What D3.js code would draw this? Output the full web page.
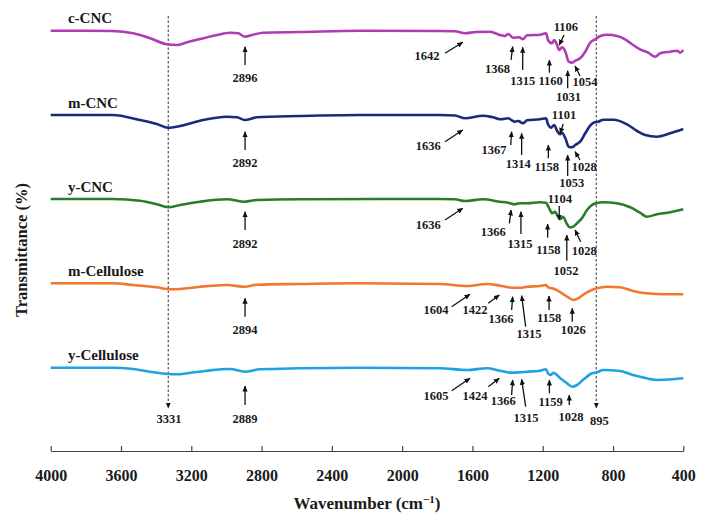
<!DOCTYPE html>
<html>
<head>
<meta charset="utf-8">
<script src="https://cdnjs.cloudflare.com/ajax/libs/d3/7.8.5/d3.min.js"></script>
<style>
    body { margin: 0; background: #fff; }
    text { font-family: "Liberation Serif", "Times New Roman", serif; font-weight: bold; fill: #1a1a1a; }
</style>
</head>
<body>
<div id="ftir_chart"></div>
<script>
// tick labels of the wavenumber axis
var wavenumberTicks = [4000, 3600, 3200, 2800, 2400, 2000, 1600, 1200, 800, 400];

// spectra: [wavenumber, transmittance (offset, arbitrary units)]
var cCNC = [[4000,420.3],[3800,420.3],[3650,420],[3530,417.7],[3434,412.7],[3339,406.7],[3282,406],[3225,408.7],
    [3150,412],[3053,416],[2980,418.3],[2933,417.7],[2895,414.3],[2848,416.3],[2791,418.3],[2582,419],[2241,420.3],
    [1785,420],[1700,419.8],[1642,417.7],[1580,419],[1500,419.3],[1443,416],[1415,415],[1397,417],[1368,413.3],
    [1334,413.7],[1313,411.7],[1289,415.7],[1215,416.3],[1181,417.7],[1170,411],[1147,407.7],[1135,411],[1118,406],
    [1107,401],[1090,403.7],[1071,399.3],[1052,389.3],[1033,388.3],[1015,390.3],[987,392.7],[958,399.3],[930,408.3],
    [901,411.7],[872,415],[834,416.3],[777,415],[731,411.7],[686,406],[646,401.7],[600,398.3],[560,394.3],[532,397.7],
    [475,399.3],[435,400.3],[418,398.3],[400,401]];

var mCNC = [[4000,336],[3800,336],[3650,336],[3491,331],[3396,327],[3331,323.3],[3264,325],[3150,330.3],[2997,334.3],
    [2940,333.7],[2895,331],[2827,333.7],[2582,335],[2241,336],[1785,336],[1700,335.5],[1642,332.7],[1540,335.3],
    [1483,333.7],[1437,331.7],[1397,332.7],[1360,329.3],[1339,330],[1313,327.7],[1289,330.7],[1215,331.7],[1181,332.7],
    [1170,326.7],[1152,323.3],[1135,326],[1118,320],[1101,316.7],[1090,318.3],[1071,312.7],[1052,304.3],[1033,303.7],
    [1015,306],[987,309.3],[958,317.7],[930,325.3],[905,328.7],[884,329.3],[855,331.3],[798,331.3],[720,326.7],
    [663,320],[617,316],[550,314.3],[475,317.7],[400,322]];

var yCNC = [[4000,252],[3650,252],[3491,250.3],[3396,246.7],[3331,243.7],[3264,246],[3150,249.3],[2997,251.7],
    [2895,249.3],[2827,251],[2582,251.7],[1785,252],[1700,251.7],[1642,250],[1540,251.7],[1443,249.3],[1397,248.3],
    [1360,246.7],[1330,247.7],[1289,247.7],[1215,248.7],[1181,248.3],[1165,243.3],[1145,237.7],[1130,239.3],
    [1113,234.3],[1100,232],[1085,234.3],[1062,227],[1047,223.7],[1028,224.3],[1005,227.7],[977,232.7],[948,241],
    [920,246],[896,247.7],[855,248.7],[777,247.7],[702,243.7],[646,238.3],[608,234.3],[550,236.7],[475,238.7],
    [400,241.7]];

var mCellulose = [[4000,167.7],[3650,167.7],[3530,166],[3396,163.7],[3321,161.7],[3264,162],[3150,164.3],[2997,166],
    [2895,164.3],[2827,166.3],[2582,167],[2241,167.7],[1785,167],[1630,165],[1517,167],[1443,165.3],[1376,163.3],
    [1330,163.3],[1289,164.3],[1215,165],[1181,166],[1170,163.7],[1147,162.7],[1130,161.7],[1090,157.7],[1052,153.3],
    [1025,151],[997,152.7],[958,157.7],[920,161],[892,162.7],[834,164.3],[760,163.7],[686,160],[610,157.7],
    [497,156.7],[400,156.7]];

var yCellulose = [[4000,83.3],[3650,83.3],[3530,82],[3415,78.7],[3331,77],[3282,76.7],[3225,77.7],[3110,80.3],
    [2980,82],[2895,79.3],[2810,81.7],[2582,82.7],[2241,83.3],[1785,82.7],[1630,81],[1517,82.7],[1443,80.3],
    [1376,78.3],[1330,78.7],[1289,79.3],[1215,80.3],[1181,81.7],[1170,77.7],[1155,76],[1140,78.3],[1100,72.7],
    [1062,67.7],[1033,64.3],[1005,66],[967,71.7],[920,77.7],[892,78.7],[855,81],[760,80],[686,76],[646,74.3],
    [550,71],[460,71.7],[400,72.7]];

var seriesNames = ["c-CNC", "m-CNC", "y-CNC", "m-Cellulose", "y-Cellulose"];
var seriesData = [cCNC, mCNC, yCNC, mCellulose, yCellulose];

// band annotations: [text, label wn, label T, tail wn, tail T, tip wn, tip T] (tail null = no arrow)
var bandLabels = [
    ["2896", 2894, 373.3, 2894, 386, 2894, 404.3],
    ["1642", 1858, 395, 1756, 397.7, 1655, 408.7],
    ["1368", 1458, 382, 1380, 391, 1371, 404.3],
    ["1315", 1314, 370.3, 1314, 381, 1314, 403.7],
    ["1160", 1155, 370.3, 1162, 378.3, 1162, 391],
    ["1106", 1068, 424.3, 1079, 416, 1106, 406],
    ["1031", 1054, 354.3, 1058, 362.7, 1058, 380.3],
    ["1054", 959, 369.3, 988, 375, 1016, 385],

    ["2892", 2894, 288.3, 2894, 301, 2894, 319.3],
    ["1636", 1851, 305.3, 1756, 309.3, 1655, 321],
    ["1367", 1477, 301, 1382, 306, 1377, 319.3],
    ["1314", 1339, 287, 1320, 296, 1320, 317.7],
    ["1158", 1177, 284.3, 1168, 292.7, 1168, 306],
    ["1101", 1079, 336.7, 1083, 327, 1102, 317.7],
    ["1053", 1035, 268.7, 1058, 275, 1058, 296],
    ["1028", 963, 284.3, 988, 291, 1016, 299.3],

    ["2892", 2894, 207.7, 2894, 221, 2894, 239.3],
    ["1636", 1851, 226, 1756, 231, 1655, 242.7],
    ["1366", 1481, 219.3, 1390, 227.7, 1380, 241],
    ["1315", 1329, 207, 1324, 217, 1324, 239.3],
    ["1158", 1168, 201, 1172, 213.3, 1172, 227],
    ["1104", 1102, 252.7, 1106, 245, 1106, 231],
    ["1052", 1068, 180, 1063, 190.3, 1063, 216],
    ["1028", 963, 200.3, 984, 209.3, 1016, 221],

    ["2894", 2894, 121.7, 2894, 134.3, 2894, 152.7],
    ["1604", 1807, 141, 1718, 144.3, 1614, 156.7],
    ["1422", 1585, 141.7, 1510, 147.7, 1447, 156],
    ["1366", 1437, 132.7, 1377, 141, 1371, 154.3],
    ["1315", 1278, 117.7, 1297, 124.3, 1320, 155.3],
    ["1158", 1164, 133.7, 1164, 141, 1164, 155],
    ["1026", 1026, 121.7, 1032, 129.3, 1032, 142.7],

    ["2889", 2894, 32.3, 2894, 46, 2894, 65],
    ["1605", 1807, 55, 1718, 60.3, 1614, 72.7],
    ["1424", 1585, 55, 1510, 64.3, 1447, 72.7],
    ["1366", 1424, 50, 1377, 56, 1371, 71],
    ["1315", 1295, 33.7, 1297, 44.3, 1320, 71.7],
    ["1159", 1155, 49.3, 1162, 57.7, 1162, 71],
    ["1028", 1039, 34.3, 1049, 46, 1049, 56],
    ["3331", 3327, 32.3, null, null, null, null],
    ["895", 878, 30.3, null, null, null, null]
];

// dashed reference lines: [wavenumber, top T, bottom T]
var refLines = [[3331, 435, 43], [895, 435, 43]];

// styles
var seriesColors = ["#b13bb3", "#1b2a7a", "#2a7c2b", "#f2772f", "#1fa2e2"];

var width = 708, height = 524;

var svg = d3.select("#ftir_chart")
    .append("svg")
    .attr("width", width)
    .attr("height", height);

var x = d3.scaleLinear().domain([4000, 400]).range([50.7, 683.3]);
var y = d3.scaleLinear().domain([0, 445]).range([451, 6]);

// arrow head
svg.append("defs").append("marker")
    .attr("id", "arrowHead")
    .attr("viewBox", "0 0 6 6")
    .attr("refX", 5.5)
    .attr("refY", 3)
    .attr("markerUnits", "userSpaceOnUse")
    .attr("markerWidth", 6)
    .attr("markerHeight", 6)
    .attr("orient", "auto")
    .append("path")
    .attr("d", "M0,0.4 L6,3 L0,5.6 Z")
    .style("fill", "#111");

// x axis
var xAxis = d3.axisBottom(x)
    .tickValues(wavenumberTicks)
    .tickFormat(d3.format("d"))
    .tickSizeInner(-5)
    .tickSizeOuter(0)
    .tickPadding(19);

var gx = svg.append("g")
    .attr("transform", "translate(0," + y(0) + ")")
    .call(xAxis);
gx.select(".domain").style("stroke", "#444").style("stroke-width", 1.2);
gx.selectAll(".tick line").style("stroke", "#444").style("stroke-width", 1.2);
gx.selectAll(".tick text")
    .style("font-family", "'Liberation Serif', serif")
    .style("font-weight", "bold")
    .style("font-size", "16px")
    .style("fill", "#1a1a1a");

// axis titles
var xt = svg.append("text")
    .attr("x", (x.range()[0] + x.range()[1]) / 2)
    .attr("y", 509)
    .attr("text-anchor", "middle")
    .style("font-size", "17px");
xt.append("tspan").text("Wavenumber (cm");
xt.append("tspan").attr("dy", -6).style("font-size", "11px").text("\u22121");
xt.append("tspan").attr("dy", 6).text(")");

svg.append("text")
    .attr("transform", "translate(26.5,250) rotate(-90)")
    .attr("text-anchor", "middle")
    .style("font-size", "16.5px")
    .text("Transmittance (%)");

// dashed reference lines
svg.selectAll(".refLine")
    .data(refLines)
    .enter().append("line")
    .attr("class", "refLine")
    .attr("x1", function(d) { return x(d[0]); })
    .attr("x2", function(d) { return x(d[0]); })
    .attr("y1", function(d) { return y(d[1]); })
    .attr("y2", function(d) { return y(d[2]); })
    .attr("marker-end", "url(#arrowHead)")
    .style("stroke", "#555")
    .style("stroke-width", 1.2)
    .style("stroke-dasharray", "2.5,2");

// spectra
var line = d3.line()
    .curve(d3.curveMonotoneX)
    .x(function(d) { return x(d[0]); })
    .y(function(d) { return y(d[1]); });

svg.selectAll(".spectrum")
    .data(seriesData)
    .enter().append("path")
    .attr("class", "spectrum")
    .attr("d", line)
    .style("fill", "none")
    .style("stroke", function(d, i) { return seriesColors[i]; })
    .style("stroke-width", 2.6)
    .style("stroke-linejoin", "round");

// series names above each spectrum
svg.selectAll(".seriesName")
    .data(seriesData)
    .enter().append("text")
    .attr("class", "seriesName")
    .attr("x", x(3902))
    .attr("y", function(d) { return y(d[0][1]) - 7.5; })
    .style("font-size", "15px")
    .text(function(d, i) { return seriesNames[i]; });

// band arrows and labels
var arrows = bandLabels.filter(function(d) { return d[3] !== null; });
svg.selectAll(".bandArrow")
    .data(arrows)
    .enter().append("line")
    .attr("class", "bandArrow")
    .attr("x1", function(d) { return x(d[3]); })
    .attr("y1", function(d) { return y(d[4]); })
    .attr("x2", function(d) { return x(d[5]); })
    .attr("y2", function(d) { return y(d[6]); })
    .attr("marker-end", "url(#arrowHead)")
    .style("stroke", "#111")
    .style("stroke-width", 1.3);

svg.selectAll(".bandLabel")
    .data(bandLabels)
    .enter().append("text")
    .attr("class", "bandLabel")
    .attr("x", function(d) { return x(d[1]); })
    .attr("y", function(d) { return y(d[2]); })
    .attr("dy", ".35em")
    .attr("text-anchor", "middle")
    .style("font-size", "12.5px")
    .text(function(d) { return d[0]; });
</script>
</body>
</html>
